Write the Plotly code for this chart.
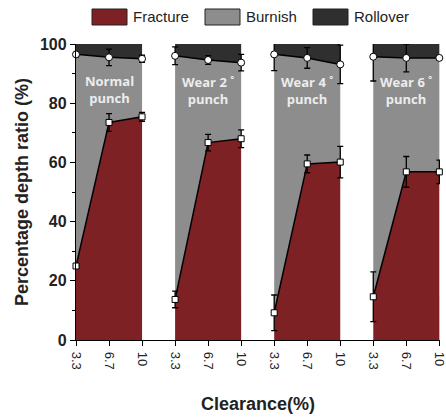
import plotly.graph_objects as go

groups = ["Normal<br>punch", "Wear 2 <sup>°</sup><br>punch", "Wear 4 <sup>°</sup><br>punch", "Wear 6 <sup>°</sup><br>punch"]
clearance = ["3.3", "6.7", "10"]
fracture = [[25.0, 73.5, 75.4], [13.7, 66.7, 68.0], [9.2, 59.5, 60.1], [14.6, 56.8, 56.8]]
fracture_err = [[0.8, 3.0, 1.5], [2.8, 2.8, 3.0], [6.0, 3.0, 5.3], [8.4, 5.2, 4.0]]
cumulative = [[96.5, 95.5, 95.0], [96.0, 94.6, 93.7], [96.5, 95.3, 93.1], [95.7, 95.3, 95.3]]
cumulative_err = [[0.8, 2.8, 1.2], [3.0, 1.5, 2.8], [5.5, 3.5, 6.5], [8.2, 4.7, 0.8]]
total = 100

RED = "#7d2125"
GRAY = "#8d8d8d"
DARK = "#2f2f2f"

fig = go.Figure()
tickvals, ticktext = [], []
for g in range(len(groups)):
    xs = [g * 3 + i for i in range(3)]
    tickvals += xs
    ticktext += clearance
    fig.add_trace(go.Scatter(x=xs, y=fracture[g], mode="lines", fill="tozeroy",
                             fillcolor=RED, line=dict(color="black", width=1.5),
                             showlegend=False, hoverinfo="skip"))
    fig.add_trace(go.Scatter(x=xs, y=cumulative[g], mode="lines", fill="tonexty",
                             fillcolor=GRAY, line=dict(color="black", width=1.5),
                             showlegend=False, hoverinfo="skip"))
    fig.add_trace(go.Scatter(x=xs, y=[total] * 3, mode="lines", fill="tonexty",
                             fillcolor=DARK, line=dict(color=DARK, width=0),
                             showlegend=False, hoverinfo="skip"))
for g in range(len(groups)):
    xs = [g * 3 + i for i in range(3)]
    fig.add_trace(go.Scatter(x=xs, y=fracture[g], mode="markers",
                             marker=dict(symbol="square", size=6, color="white",
                                         line=dict(color="black", width=1)),
                             error_y=dict(type="data", array=fracture_err[g], color="black",
                                          thickness=1.3, width=3),
                             showlegend=False, cliponaxis=False))
    fig.add_trace(go.Scatter(x=xs, y=cumulative[g], mode="markers",
                             marker=dict(symbol="circle", size=7, color="white",
                                         line=dict(color="black", width=1)),
                             error_y=dict(type="data", array=cumulative_err[g], color="black",
                                          thickness=1.3, width=3),
                             showlegend=False, cliponaxis=False))
    fig.add_annotation(x=g * 3 + 1, y=84.5, text="<b>" + groups[g] + "</b>", showarrow=False,
                       font=dict(family="Open Sans", size=13, color="#ececec"))

# legend drawn in paper coordinates
legend_items = [("Fracture", RED), ("Burnish", GRAY), ("Rollover", DARK)]
leg_x0 = [92, 205, 313]
for (name, col), x0 in zip(legend_items, leg_x0):
    fig.add_shape(type="rect", xref="paper", yref="paper",
                  x0=(x0 - 76) / 364, x1=(x0 + 35 - 76) / 364,
                  y0=(340 - 9) / 296, y1=(340 - 25) / 296,
                  fillcolor=col, line=dict(color="#222", width=1))
    fig.add_annotation(xref="paper", yref="paper", x=(x0 + 39 - 76) / 364,
                       y=(340 - 17) / 296, text=name, showarrow=False, xanchor="left",
                       yanchor="middle", font=dict(family="Liberation Sans", size=15, color="#222"))

fig.update_layout(
    width=446, height=418,
    margin=dict(l=76, r=6, t=44, b=78, autoexpand=False),
    plot_bgcolor="white", paper_bgcolor="white",
    xaxis=dict(range=[0, 11.02], tickvals=tickvals, ticktext=ticktext, tickangle=90,
               ticklabeloverflow="allow", automargin=False, ticklabelstandoff=3,
               showline=True, linecolor="black", linewidth=1.3, ticks="outside",
               ticklen=5, tickcolor="black", showgrid=False, zeroline=False,
               tickfont=dict(family="Liberation Sans", size=13, color="#222"),
               title=dict(text="<b>Clearance(%)</b>", standoff=28,
                          font=dict(family="Liberation Sans", size=18, color="#222"))),
    yaxis=dict(range=[0, 100], tickvals=[0, 20, 40, 60, 80, 100],
               ticktext=["<b>0</b>", "<b>20</b>", "<b>40</b>", "<b>60</b>", "<b>80</b>", "<b>100</b>"],
               showline=True, linecolor="black", linewidth=1.3, ticks="outside",
               ticklen=5, tickcolor="black", showgrid=False, zeroline=False, automargin=False,
               minor=dict(tickvals=[10, 30, 50, 70, 90], ticks="outside", ticklen=3, tickcolor="black"),
               tickfont=dict(family="Liberation Sans", size=16, color="#222"),
               title=dict(text="<b>Percentage depth ratio (%)</b>", standoff=6,
                          font=dict(family="Liberation Sans", size=18, color="#222"))),
)
fig.write_html("out.html")
